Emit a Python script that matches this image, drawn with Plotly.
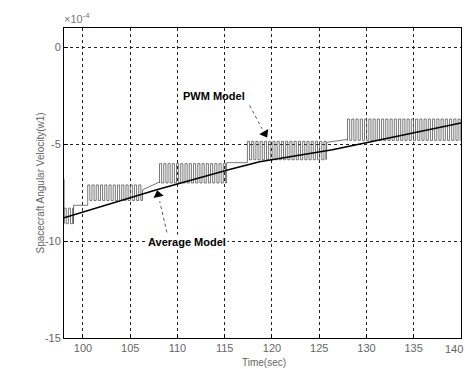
import plotly.graph_objects as go

# ---- data ----
avg_time = [98.0, 107.8, 115.5, 118.7, 126.4, 140.0]
avg_vel = [-8.8, -7.35, -6.3, -5.9, -5.28, -3.9]

# PWM model: switching bands (start, end, high level, low level)
band_start = [98.0, 100.5, 108.1, 117.4, 128.0]
band_end = [99.0, 106.3, 115.2, 125.8, 140.0]
band_high = [-8.3, -7.1, -6.0, -4.85, -3.7]
band_low = [-9.1, -7.9, -7.0, -5.8, -4.8]
# hold levels between bands
gap_start_level = [-8.15, -7.35, -5.95, -4.9]
gap_end_level = [-8.15, -6.95, -5.95, -4.75]
pwm_period = 0.45
pwm_initial = -6.8

x_ticks = [100, 105, 110, 115, 120, 125, 130, 135, 140]
y_ticks = [0, -5, -10, -15]
y_ticktext = ["0", "-5", "-10", "-15"]

# ---- build PWM trace from the switching description ----
pt, pv = [band_start[0]], [pwm_initial]
for i, (s, e, hi, lo) in enumerate(zip(band_start, band_end, band_high, band_low)):
    t0 = s
    while t0 < e - 1e-9:
        t1 = min(t0 + pwm_period / 2, e)
        t2 = min(t0 + pwm_period, e)
        pt += [t0, t0, t1, t1, t2]
        pv += [lo, hi, hi, lo, lo]
        t0 = t2
    if i < len(gap_start_level):
        pt += [e, band_start[i + 1]]
        pv += [gap_start_level[i], gap_end_level[i]]

fig = go.Figure()
fig.add_trace(go.Scatter(x=pt, y=pv, mode="lines",
                         line=dict(color="#555", width=0.8), showlegend=False))
fig.add_trace(go.Scatter(x=avg_time, y=avg_vel, mode="lines",
                         line=dict(color="black", width=1.5), showlegend=False))

# arrowheads for the two callouts
fig.add_trace(go.Scatter(x=[119.25, 107.95], y=[-4.45, -7.6], mode="markers",
                         marker=dict(symbol="triangle-up", size=9, color="black",
                                     angle=[150, -13]),
                         showlegend=False, hoverinfo="skip"))

tick_font = dict(family="Liberation Sans, Arial", size=11, color="#666")
axis_common = dict(showgrid=True, gridcolor="#222", griddash="dot", gridwidth=1,
                   showline=True, linecolor="black", linewidth=1, mirror=True,
                   ticks="inside", ticklen=4, tickcolor="black", zeroline=False,
                   automargin=False, tickfont=tick_font)

fig.update_layout(
    width=465, height=369,
    margin=dict(l=64, r=4, t=28, b=31),
    paper_bgcolor="white", plot_bgcolor="white",
    xaxis=dict(range=[97.99, 140.01], tickvals=x_ticks[:-1], **axis_common),
    yaxis=dict(range=[-15, 1], tickvals=y_ticks, ticktext=y_ticktext, **axis_common),
)

# dashed arrow lines
fig.add_shape(type="line", x0=117.65, y0=-3.0, x1=118.95, y1=-4.2,
              line=dict(color="#555", width=1, dash="dot"))
fig.add_shape(type="line", x0=108.88, y0=-9.55, x1=108.12, y1=-7.95,
              line=dict(color="#555", width=1, dash="dot"))

annots = [
    dict(x=113.85, y=-2.53, text="<b>PWM Model</b>", showarrow=False,
         font=dict(family="Liberation Sans, Arial", size=11, color="black")),
    dict(x=111.0, y=-10.04, text="<b>Average Model</b>", showarrow=False,
         bgcolor="white", font=dict(family="Liberation Sans, Arial", size=11, color="black")),
    # last x tick label, nudged inside the page edge
    dict(xref="paper", yref="paper", x=1 + 4 / 397, y=(338 - 349) / 310,
         text=str(x_ticks[-1]), showarrow=False, xanchor="right", yanchor="middle",
         xshift=0, font=tick_font),
    dict(xref="paper", yref="paper", x=(62 - 64) / 397, y=(338 - 18) / 310,
         text="×10<sup>-4</sup>", showarrow=False, xanchor="left", yanchor="middle",
         font=dict(family="Liberation Sans, Arial", size=11, color="#777")),
    dict(xref="paper", yref="paper", x=(32 - 64) / 397, y=0.5,
         text="Spacecraft Angular Velocity(w1)", textangle=-90, showarrow=False,
         font=dict(family="Liberation Sans, Arial", size=10, color="#666")),
    dict(xref="paper", yref="paper", x=(264 - 64) / 397, y=(338 - 362) / 310,
         text="Time(sec)", showarrow=False, yanchor="middle",
         font=dict(family="Liberation Sans, Arial", size=10, color="#666")),
]
for a in annots:
    fig.add_annotation(**a)

fig.write_html("out.html")
